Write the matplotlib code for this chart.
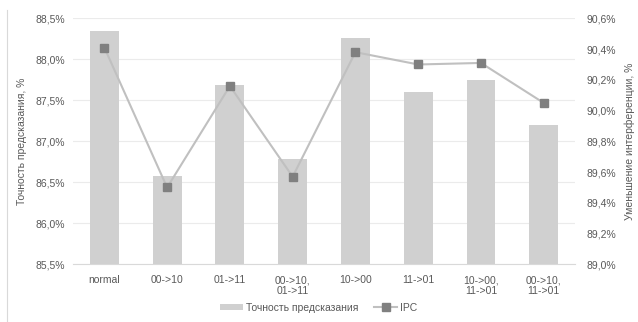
import matplotlib
matplotlib.use("Agg")
import matplotlib.pyplot as plt
from matplotlib.lines import Line2D
from matplotlib.ticker import FuncFormatter

plt.rcParams['font.family'] = ['Liberation Sans', 'DejaVu Sans']

categories = ['normal', '00->10', '01->11', '00->10,\n01->11', '10->00',
              '11->01', '10->00,\n11->01', '00->10,\n11->01']
accuracy = [88.35, 86.58, 87.69, 86.78, 88.26, 87.60, 87.75, 87.20]
ipc = [90.41, 89.50, 90.16, 89.57, 90.38, 90.30, 90.31, 90.05]

txt = '#595959'

fig = plt.figure(figsize=(6.38, 3.22), dpi=100)
ax = fig.add_axes([0.1144, 0.179, 0.787, 0.764])
ax2 = ax.twinx()

x = range(len(categories))
ax.bar(x, accuracy, width=0.46, color='#d0d0d0', zorder=2,
       label='Точность предсказания')
ax.set_ylim(85.5, 88.5)
ax.set_yticks([85.5, 86.0, 86.5, 87.0, 87.5, 88.0, 88.5])
ax.yaxis.set_major_formatter(FuncFormatter(lambda v, p: f'{v:.1f}%'.replace('.', ',')))
ax.set_xlim(-0.5, len(categories) - 0.5)
ax.set_xticks(list(x))
ax.set_xticklabels(categories, fontsize=7.5, color=txt, linespacing=1.1)
ax.grid(axis='y', color='#ebebeb', linewidth=0.8, zorder=0)
ax.set_axisbelow(True)
ax.set_ylabel('Точность предсказания, %', fontsize=7.5, color=txt, labelpad=6)

ax2.plot(x, ipc, color='#c0c0c0', linewidth=1.5, marker='s', markersize=6,
         markerfacecolor='#808080', markeredgecolor='#808080', zorder=3, label='IPC')
ax2.set_ylim(89.0, 90.6)
ax2.set_yticks([89.0, 89.2, 89.4, 89.6, 89.8, 90.0, 90.2, 90.4, 90.6])
ax2.yaxis.set_major_formatter(FuncFormatter(lambda v, p: f'{v:.1f}%'.replace('.', ',')))
ax2.set_ylabel('Уменьшение интерференции, %', fontsize=7.5, color=txt, labelpad=6)

for a in (ax, ax2):
    for s in a.spines.values():
        s.set_visible(False)
    a.tick_params(length=0, labelsize=7.5, labelcolor=txt)
ax.tick_params(axis='x', pad=8)
ax.tick_params(axis='y', pad=6)
ax2.tick_params(axis='y', pad=8)
ax.spines['bottom'].set_visible(True)
ax.spines['bottom'].set_color('#d9d9d9')

h1, l1 = ax.get_legend_handles_labels()
h2, l2 = ax2.get_legend_handles_labels()
fig.legend(h1 + h2, l1 + l2, loc='center', bbox_to_anchor=(0.5, 0.045), ncol=2,
           frameon=False, fontsize=7.5, labelcolor=txt, handlelength=2.2,
           handleheight=0.5, columnspacing=1.5, handletextpad=0.3)

fig.add_artist(Line2D([0.011, 0.011], [0.0, 0.97], color='#d9d9d9', linewidth=0.8))

fig.savefig('out.png', dpi=100)
